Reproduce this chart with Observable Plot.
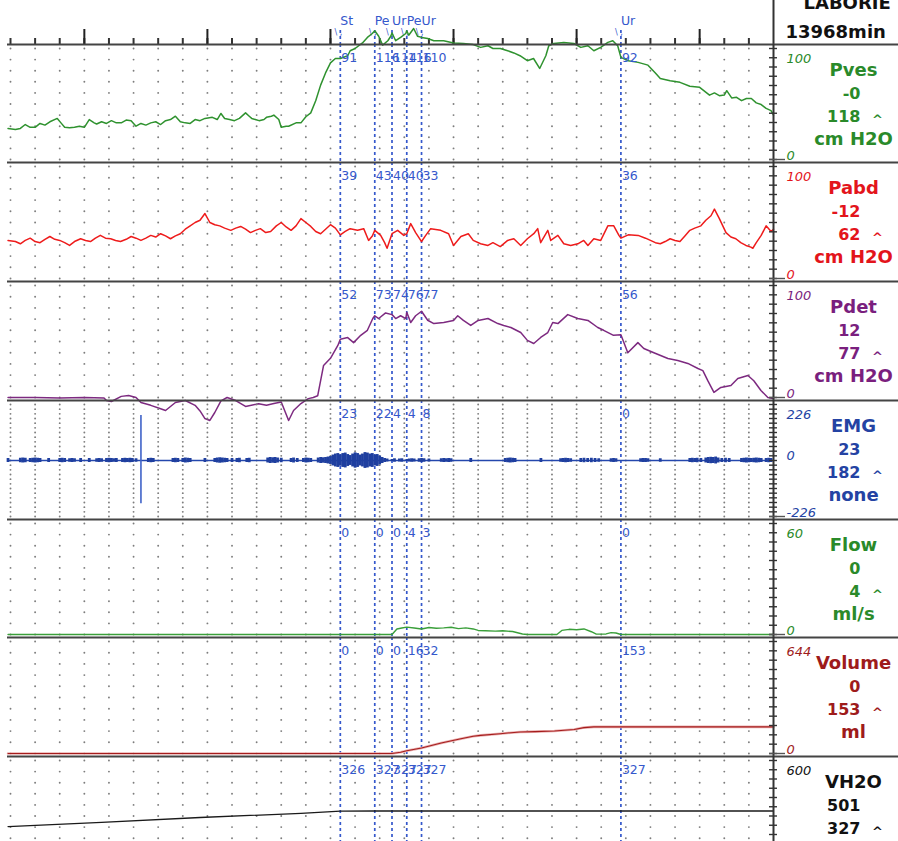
<!DOCTYPE html>
<html>
<head>
<meta charset="utf-8">
<script src="https://cdn.jsdelivr.net/npm/d3@7"></script>
<script src="https://cdn.jsdelivr.net/npm/@observablehq/plot@0.6"></script>
<style>
  body { margin: 0; background: #fff; }
  #chart { position: relative; width: 898px; height: 841px; overflow: hidden; font-family: "DejaVu Sans", sans-serif; }
  #chart svg { display: block; }
</style>
</head>
<body>
<div id="chart"></div>
<script>
// Time axis in seconds: one dotted grid column every 10 s, long tick every 50 s.
const gridTimes = d3.range(0, 301, 10);
const majorTimes = [30, 80, 130, 180, 230, 280];
const endTime = 310;

// Event markers
const eventNames = ["St", "Pe", "Ur", "Pe", "Ur", "Ur"];
const eventTimes = [134, 148, 155, 161, 167, 248];

// Channel readings at each event
const pvesAt = [91, 116, 114, 116, 110, 92];
const pabdAt = [39, 43, 40, 40, 33, 36];
const pdetAt = [52, 73, 74, 76, 77, 56];
const emgAt = [23, 22, 4, 4, 8, 0];
const flowAt = [0, 0, 0, 4, 3, 0];
const volumeAt = [0, 0, 0, 16, 32, 153];
const vh2oAt = [326, 327, 327, 327, 327, 327];

// Traces as [time s, value]
const pves = [[-1,28],[2,27],[4,28],[6,31.5],[8,29],[10,29],[12,32.5],[14,31],[16,34],[19,37],[20.5,33],[22,29],[24,28.5],[26,29],[28,30],[30,29],[32,36],[34,33],[35,32],[37,34],[39,32.5],[41,35],[43,33],[45,33],[47,35.5],[49,35],[51,30],[53,32.5],[55,31],[57,33],[59,34],[61,31.5],[63,35],[65,36],[67,39],[69,34],[71,33],[73,32.5],[75,36],[77,35],[79,37],[82,38],[84,36],[85.5,41.5],[87,37],[89,36],[91,35],[93,37],[95.5,42],[97,39],[98,37],[101,35],[103,36],[104,38],[106,39],[107,40],[109,36],[110,29],[112,30],[113,30],[116,33],[118,33],[120,38.5],[122,42],[124,53],[126,67],[128,78],[130,87],[132,91],[137,93.5],[138,98],[140,100],[143,105],[145,110],[147,113.5],[149.6,111],[151.2,103],[153.3,107],[154.5,111],[156.5,107],[158.5,110],[160.6,113.5],[161.8,112],[163.8,118],[165.4,111],[169.5,109],[172,107],[176,107],[180,105],[184,104.5],[188,103.5],[191,101],[194,102.5],[196,100],[199,100],[202,98],[204.5,96],[207,93.5],[210,89],[212.5,91],[215,82],[217.5,93.5],[218.7,102.5],[220.7,104.5],[224.8,105.5],[228.9,104.5],[231.7,101],[234.6,102.5],[237,98],[239.8,101],[242.7,105.5],[244.7,107],[246.7,102.5],[251,89],[255,87.5],[259,85],[262,78],[264,73],[268,71],[272,69.5],[276,66],[280,65],[284,58],[286,60],[288,57.5],[290,58],[291,62],[293,55.5],[295,56],[297,53],[299,55],[301,55],[303,51],[305,49.5],[307,46],[309,44],[310,40]];

const pabd = [[-1,34],[2,33],[4,31],[6,34],[8,36],[10,33],[12,32],[14,35],[16,37.5],[18,35],[20,34],[22,32],[24,29.5],[26,33],[28.5,35.5],[30.5,34],[32.5,33],[34.5,36],[36.5,38.5],[38.6,36],[40.7,35.5],[42.7,34],[44.7,33],[47,35],[49,37.5],[51,36],[53,34],[55,36],[57,38.5],[59,37],[61,40],[63,38],[65,35.5],[67,38],[69,40],[71,44],[73,47],[75,50],[77,52],[79,58],[81,50],[83,48],[85,47],[87,45],[89.5,43],[91.5,45],[93.5,46.5],[95.5,44],[97.5,41],[99.5,43],[101.5,44.5],[103.7,41],[105.7,42],[108,47],[110,50],[112,46],[114,43],[116,47],[118,53.5],[120,50],[122,46.5],[124,42],[126,40],[128,44],[130,48],[132,45],[136,42],[138,44.5],[141,43],[143.5,44.5],[145.5,34],[147,38],[150.4,38.5],[152,32],[153,27],[157.3,43],[159.8,38.5],[162.6,49],[164.6,41],[168.7,38.5],[170.7,44.5],[174.8,43],[178,40],[180,29.5],[183,37.5],[186,40],[188,34],[191,31],[194,29.5],[196,32],[199,28.5],[202,34],[204.5,35.5],[207.3,29.5],[210,35.5],[212.6,40],[214.2,44.5],[215.4,32],[218.3,43],[219.5,34],[222.4,38.5],[224.8,31],[227.6,29.5],[230.5,31],[232.9,34],[234.6,29.5],[237,35.5],[239.8,34],[242.7,47],[245.1,47],[247.2,38.5],[251,39],[255,38.5],[258,36],[260,34],[262,32],[264,31],[266,33],[268,35.5],[270,34],[272,33],[274,38],[276,43],[278,45],[280.5,47],[282.5,52],[284.6,56],[286,62],[288,53.5],[290.7,41],[292.7,37],[294.7,35.5],[296.7,32],[298.8,29.5],[300.8,28],[301.6,27],[303,32],[305,38.5],[307,47],[309,42],[310,44]];

const pdet = [[-1,0],[10,0],[20,-0.5],[30,0],[38,-0.5],[39,-2.7],[41,-3.6],[45,1],[48,1.8],[51,0],[53,-4.5],[57,-7],[61,-10],[63,-11.6],[67,-4.5],[71,-2.7],[75,-7],[77,-12],[79,-18.8],[81,-20.5],[83,-13.4],[85.5,-3],[88,0],[91.5,-2.7],[95.5,-8],[100.8,-5.5],[104,-7],[107,-5.4],[110,-4],[113,-20.5],[115,-11.6],[118,-5.4],[121,-1],[123,0],[124.8,1.5],[126,15],[127.2,28.6],[130,35],[133,46.5],[137,53.5],[139.4,49],[142.3,55.5],[145,60],[147.2,70.5],[149.6,70.5],[152.4,75.5],[156.5,70.5],[158.5,73],[160.6,70.5],[162.6,67],[164.6,73],[169.5,69],[172,66],[176,67],[180,68.8],[181.7,73],[184,68.8],[187,64.3],[190,68.8],[194,70.5],[198,66],[200.4,64.3],[203.3,62.5],[207.3,58],[210,51],[212.6,48.2],[215.4,53.6],[218.3,58],[220.3,67],[222.4,66],[226.4,74],[230.5,70.5],[234.6,68.8],[238.6,62.5],[241,60],[245,55.5],[250.8,40],[254.9,49],[257.3,43.8],[261.4,40],[267.1,34.8],[271.1,33],[275.2,30.4],[279.3,25.9],[281.3,24],[283.3,15],[285.8,4.5],[288.6,9],[292.7,10.7],[295.5,17],[299.6,19.6],[302,15],[304.9,6.3],[307.7,0],[310,-1]];

// EMG amplitude envelope [time s, half-amplitude]
const emg = [[-1,8],[4,9],[5,10],[6,9],[8,8],[9,9],[10,10],[11,9],[12,8],[15.5,8],[20,8],[21,9],[22,8],[24,7],[25,8],[26,7],[28.5,8],[32,8],[35,7],[36,8],[37,7],[39,8],[40,9],[41,8],[42,7],[43,8],[45.5,8],[46.5,9],[47.5,8],[48.5,9],[49.5,8],[51,7],[56,8],[57,9],[58,8],[66,8],[67,9],[68,8],[70,8],[71,10],[72,9],[73,8],[79,8],[83,8],[84,10],[85,11],[86,10],[87,9],[88,8],[90,8],[92,8],[93,9],[96,8],[97,9],[104.5,10],[105.5,12],[106.5,11],[107.5,12],[108.5,10],[110,9],[114,8],[115,10],[116.5,8],[119,8],[120,10],[121,9],[122,8],[125,10],[126,12],[127,11],[128,12],[129,14],[130,16],[131,22],[132,26],[133,28],[135,28],[136,30],[137,24],[138,20],[139,26],[140,31],[141,28],[142,22],[143,26],[144,32],[145,30],[146,26],[147,28],[149,24],[150,18],[151,12],[152,8],[153,6],[156,7],[158,6],[159,7],[162,6],[163,7],[164,6],[166,7],[168,7],[170,6],[175,7],[176,8],[177,7],[178,8],[179,7],[187,8],[201,8],[202,9],[203,10],[204,9],[205,8],[215.5,8],[223.5,7],[224.5,8],[225.5,9],[226.5,8],[227.6,7],[231.7,8],[233,9],[234.5,8],[236,9],[237.5,8],[239,7],[244,7],[245,8],[246,7],[256,7],[257,8],[258,8],[259,7],[264,7],[276,8],[277,9],[278,8],[279,9],[280.5,8],[282.5,10],[283.5,12],[284.5,13],[285.5,12],[286.5,14],[287.5,10],[289,8],[290.5,9],[292,8],[297,8],[298,9],[299,10],[300,9],[301,8],[302,9],[303,10],[304,9],[305,8],[307,8],[308,9],[309,8]];
// Movement artefact [time s, top, bottom]
const emgSpike = [[53, 182, -175]];

const flow = [[-1,0],[157,3],[159,3.5],[164,3.5],[170,3.8],[173,3.4],[176,3.6],[179,3.9],[182,3.2],[185,3.6],[188,3.0],[190,2.2],[193,2.0],[197,1.8],[200,2.0],[204,1.6],[208,0.3],[210,0],[222,0],[224,2.2],[227,2.8],[230,2.6],[233,3.0],[236,1.5],[238,0.2],[242,0.3],[244,1.0],[246,0.8],[310,0]];

const volume = [[-1,0],[158.5,7.5],[175,60],[183,85],[188,99],[191,104],[199,114],[207,124],[213,126],[221,129],[229,138],[233,149],[237,153],[280,153],[310,153]];

const vh2o = [[-1,243],[37,265],[77,292],[118,314],[310,327]];

const BLUE = "#3558cc";

// Replace any reading at an event time with the event value, keep time order
function withEvents(trace, values) {
  const pts = trace.filter(d => !eventTimes.includes(d[0]));
  eventTimes.forEach((t, i) => pts.push([t, values[i]]));
  return pts.sort((a, b) => a[0] - b[0]);
}

const lineOf = (data, stroke, width = 1.5) =>
  Plot.line(data, {x: d => d[0], y: d => d[1], stroke, strokeWidth: width});

const panels = [
  {name: "Pves", second: "-0", unit: "cm H2O", color: "#2a8a2a", min: 0, max: 100, h: 118, rows: 10, ticks: 12,
   at: pvesAt, data: withEvents(pves, pvesAt),
   draw: d => [lineOf(d, "#2f922f")]},
  {name: "Pabd", second: "-12", unit: "cm H2O", color: "#e3141b", min: 0, max: 100, h: 119, rows: 10, ticks: 12,
   at: pabdAt, data: withEvents(pabd, pabdAt),
   draw: d => [lineOf(d, "#ee1b1b")]},
  {name: "Pdet", second: "12", unit: "cm H2O", color: "#7a1f7e", min: 0, max: 100, h: 119, rows: 10, ticks: 12,
   at: pdetAt, data: withEvents(pdet, pdetAt),
   draw: d => [lineOf(d, "#7d2a80")]},
  {name: "EMG", second: "23", unit: "none", color: "#2443a3", min: -226, max: 226, h: 119, rows: 24, ticks: 24, zeroLabel: true,
   at: emgAt, data: withEvents(emg, emgAt),
   peak: d3.max(emgSpike, d => d[1]),
   draw: d => [
     Plot.ruleY([0], {stroke: "#2447ad", strokeWidth: 1.6, insetLeft: -3}),
     Plot.ruleX(d, {x: e => e[0], y1: e => -e[1], y2: e => e[1], stroke: "#1f3f9f", strokeWidth: 2.8}),
     Plot.ruleX(emgSpike, {x: e => e[0], y1: e => e[2], y2: e => e[1], stroke: "#3f63c8", strokeWidth: 1.6})
   ]},
  {name: "Flow", second: "0", unit: "ml/s", color: "#2a8a2a", min: 0, max: 60, h: 118, rows: 10, ticks: 12,
   at: flowAt, data: withEvents(flow, flowAt),
   draw: d => [lineOf(d, "#3a9f3a", 1.4)]},
  {name: "Volume", second: "0", unit: "ml", color: "#9e1b1b", min: 0, max: 644, h: 119, rows: 10, ticks: 12,
   at: volumeAt, data: withEvents(volume, volumeAt),
   draw: d => [lineOf(d, "#eab0b0", 2.6), lineOf(d, "#a51d1d", 1.1)]},
  {name: "VH2O", second: "501", unit: "", color: "#111", min: 0, max: 600, h: 118, rows: 10, ticks: 12,
   at: vh2oAt, data: withEvents(vh2o, vh2oAt),
   draw: d => [lineOf(d, "#1a1a1a", 1.3)]}
];

const common = {
  width: 898, marginLeft: 10, marginRight: 125, marginTop: 0, marginBottom: 0,
  style: {overflow: "visible", background: "transparent", fontFamily: "DejaVu Sans, sans-serif"}
};

function header() {
  const events = eventTimes.map((t, i) => ({t, name: eventNames[i]}));
  return Plot.plot({
    ...common, height: 44,
    x: {domain: [0, endTime], axis: null},
    marks: [
      Plot.tickX(gridTimes, {x: d => d, insetTop: 38, stroke: "#333", strokeWidth: 2}),
      Plot.tickX(majorTimes, {x: d => d, insetTop: 29, stroke: "#222", strokeWidth: 2}),
      Plot.ruleX(eventTimes, {x: d => d, insetTop: 30, stroke: BLUE, strokeWidth: 1.7, strokeDasharray: "3,3"}),
      Plot.text(eventTimes, {x: d => d, text: () => "\\ ,", frameAnchor: "top", lineAnchor: "bottom", dy: 34, dx: -2, fontSize: 8, fill: BLUE}),
      Plot.text(events, {x: "t", text: "name", frameAnchor: "top", lineAnchor: "bottom", dy: 24, textAnchor: "start", fontSize: 12.5, fill: BLUE}),
      Plot.ruleX([endTime], {x: d => d, stroke: "#333", strokeWidth: 2}),
      Plot.text(["LABORIE"], {text: d => d, frameAnchor: "top-right", lineAnchor: "bottom", dx: 30, dy: 8, textAnchor: "start", fontSize: 18, fontWeight: "bold", fill: "#111"}),
      Plot.text(["13968min"], {text: d => d, frameAnchor: "top-right", lineAnchor: "bottom", dx: 12, dy: 37, textAnchor: "start", fontSize: 18, fontWeight: "bold", fill: "#111", letterSpacing: "0.9px"})
    ]
  });
}

function panelPlot(p) {
  const span = p.max - p.min;
  const rowVals = d3.range(p.rows + 1).map(i => p.min + span * i / p.rows);
  const tickVals = d3.range(p.ticks + 1).map(i => p.min + span * i / p.ticks);
  const dots = gridTimes.flatMap(t => rowVals.map(v => ({t, v})));
  const events = eventTimes.map((t, i) => ({t, label: String(p.at[i])}));
  const peak = p.peak ?? d3.max(p.data, d => d[1]);
  const c = p.color;
  const side = {frameAnchor: "top-right", lineAnchor: "bottom", fill: c, fontWeight: "bold"};
  const scaleText = {lineAnchor: "bottom", fill: c, fontStyle: "italic", fontSize: 13, textAnchor: "start", dx: 13};
  const marks = [
    Plot.dot(dots, {x: "t", y: "v", r: 0.95, fill: "#7d7d7d"}),
    Plot.ruleX(eventTimes, {x: d => d, stroke: BLUE, strokeWidth: 1.7, strokeDasharray: "3,3"}),
    ...p.draw(p.data),
    Plot.text(events, {x: "t", text: "label", frameAnchor: "top", lineAnchor: "bottom", dy: 17, dx: 1, textAnchor: "start", fontSize: 12.5, fill: BLUE}),
    Plot.ruleY([p.max], {y: d => d, dy: -4, insetLeft: -3, insetRight: -125, stroke: "#444", strokeWidth: 2}),
    Plot.ruleX([endTime], {x: d => d, stroke: "#333", strokeWidth: 2}),
    Plot.ruleY(tickVals, {y: d => d, x1: () => endTime, x2: () => endTime, insetLeft: -4, insetRight: -4, stroke: "#333", strokeWidth: 1.4}),
    Plot.ruleY([p.min], {y: d => d, x1: () => endTime, x2: () => endTime, insetLeft: -4, insetRight: -12, stroke: "#555", strokeWidth: 1.4}),
    Plot.text([p.name], {...side, text: d => d, dx: 80, dy: 31, textAnchor: "middle", fontSize: 18}),
    Plot.text([p.second], {...side, text: d => d, dx: 87, dy: 54, textAnchor: "end", fontSize: 16}),
    Plot.text([String(peak)], {...side, text: d => d, dx: 87, dy: 77, textAnchor: "end", fontSize: 16}),
    Plot.text(["^"], {...side, text: d => d, dx: 104, dy: 79, textAnchor: "middle", fontSize: 13}),
    Plot.text([p.unit], {...side, text: d => d, dx: 80, dy: 100, textAnchor: "middle", fontSize: 18}),
    Plot.text([String(p.max)], {...scaleText, text: d => d, frameAnchor: "top-right", dy: 18}),
    Plot.text([String(p.min)], {...scaleText, text: d => d, frameAnchor: "bottom-right", dy: -3})
  ];
  if (p.zeroLabel) {
    marks.push(Plot.text([0], {...scaleText, x: () => endTime, y: d => d, text: d => String(d), dy: -1}));
  }
  return Plot.plot({
    ...common, height: p.h,
    x: {domain: [0, endTime], axis: null},
    y: {domain: [p.min, p.max], axis: null, insetTop: 4, insetBottom: 3},
    marks
  });
}

const root = document.getElementById("chart");
root.appendChild(header());
for (const p of panels) root.appendChild(panelPlot(p));
</script>
</body>
</html>
